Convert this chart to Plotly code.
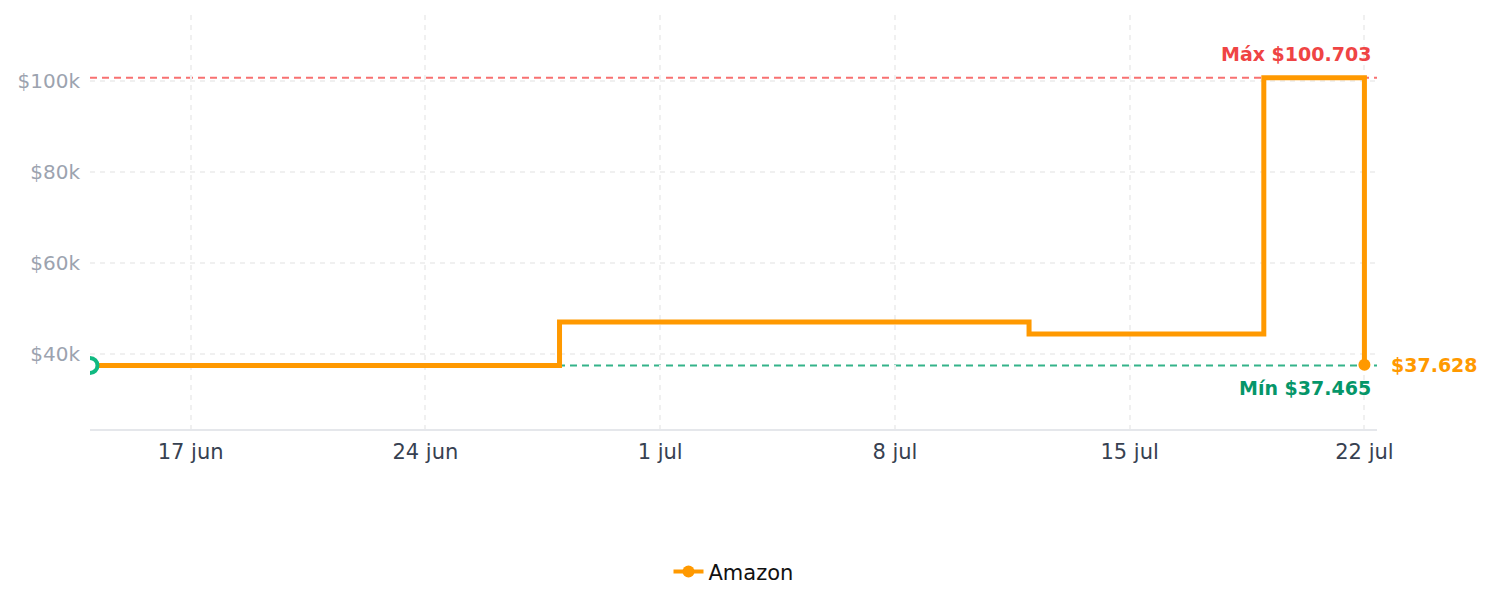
import plotly.graph_objects as go

dates = ["2025-06-14", "2025-06-28", "2025-07-12", "2025-07-19", "2025-07-22"]
prices = [37465, 47000, 44400, 100703, 37628]
series_name = "Amazon"

min_price = 37465
max_price = 100703
last_date = "2025-07-22"
last_price = 37628

xtick_vals = ["2025-06-17", "2025-06-24", "2025-07-01", "2025-07-08", "2025-07-15", "2025-07-22"]
xtick_text = ["17 jun", "24 jun", "1 jul", "8 jul", "15 jul", "22 jul"]
ytick_vals = [40000, 60000, 80000, 100000]
ytick_text = ["$40k", "$60k", "$80k", "$100k"]

ORANGE = "#ff9900"
RED_LINE = "#f87171"
RED_TXT = "#ef4444"
GREEN_LINE = "#34b38a"
GREEN_TXT = "#059669"
FONT = "DejaVu Sans"

fig = go.Figure()

fig.add_trace(go.Scatter(
    x=dates, y=prices, name=series_name, mode="lines",
    line=dict(color=ORANGE, width=5, shape="hv"),
    showlegend=False, hoverinfo="skip",
))
# legend entry
fig.add_trace(go.Scatter(
    x=[None], y=[None], name=series_name, mode="lines+markers",
    line=dict(color=ORANGE, width=4), marker=dict(color=ORANGE, size=12),
))
# start marker
fig.add_trace(go.Scatter(
    x=[dates[0]], y=[prices[0]], mode="markers", showlegend=False,
    marker=dict(color="white", size=15, line=dict(color="#10b981", width=4)),
))
# last marker
fig.add_trace(go.Scatter(
    x=[last_date], y=[last_price], mode="markers", showlegend=False,
    marker=dict(color=ORANGE, size=12), cliponaxis=False,
))

fig.add_shape(type="line", xref="x domain", yref="y", x0=0, x1=1,
              y0=max_price, y1=max_price, layer="below",
              line=dict(color=RED_LINE, width=2, dash="7px,5px"))
fig.add_shape(type="line", xref="x domain", yref="y", x0=0, x1=1,
              y0=min_price, y1=min_price, layer="below",
              line=dict(color=GREEN_LINE, width=2, dash="7px,5px"))

fig.add_annotation(x=last_date, y=max_price, text="Máx $100.703", showarrow=False,
                   xanchor="right", yanchor="middle", xshift=9, yshift=24,
                   font=dict(family=FONT, size=19, color=RED_TXT, weight="bold"))
fig.add_annotation(x=last_date, y=min_price, text="Mín $37.465", showarrow=False,
                   xanchor="right", yanchor="middle", xshift=9, yshift=-23,
                   font=dict(family=FONT, size=19, color=GREEN_TXT, weight="bold"))
fig.add_annotation(x=last_date, y=last_price, text="$37.628", showarrow=False,
                   xanchor="left", yanchor="middle", xshift=25, yshift=0,
                   font=dict(family=FONT, size=19, color=ORANGE, weight="bold"))

fig.update_layout(
    width=1492, height=607,
    margin=dict(l=90, r=115, t=15, b=178),
    paper_bgcolor="white", plot_bgcolor="white",
    font=dict(family=FONT, size=20),
    legend=dict(orientation="h", x=0.5, xanchor="center", y=-0.345, yanchor="middle",
                font=dict(family=FONT, size=21, color="#111111")),
    hovermode=False,
)
fig.update_xaxes(
    type="date", range=["2025-06-14", "2025-07-22 09:00"],
    tickvals=xtick_vals, ticktext=xtick_text,
    tickfont=dict(family=FONT, size=21, color="#374151"),
    showgrid=True, gridcolor="#f0f0f0", griddash="5px,5px", gridwidth=1.5,
    showline=True, linecolor="#e5e7eb", linewidth=1.5,
    ticks="outside", ticklen=3, tickcolor="rgba(0,0,0,0)", zeroline=False,
)
fig.update_yaxes(
    range=[23500, 114500],
    tickvals=ytick_vals, ticktext=ytick_text,
    tickfont=dict(family=FONT, size=20, color="#9ca3af"),
    showgrid=True, gridcolor="#f0f0f0", griddash="5px,5px", gridwidth=1.5,
    showline=False, ticks="outside", ticklen=5, tickcolor="rgba(0,0,0,0)",
    zeroline=False,
)

fig.write_html("out.html")
